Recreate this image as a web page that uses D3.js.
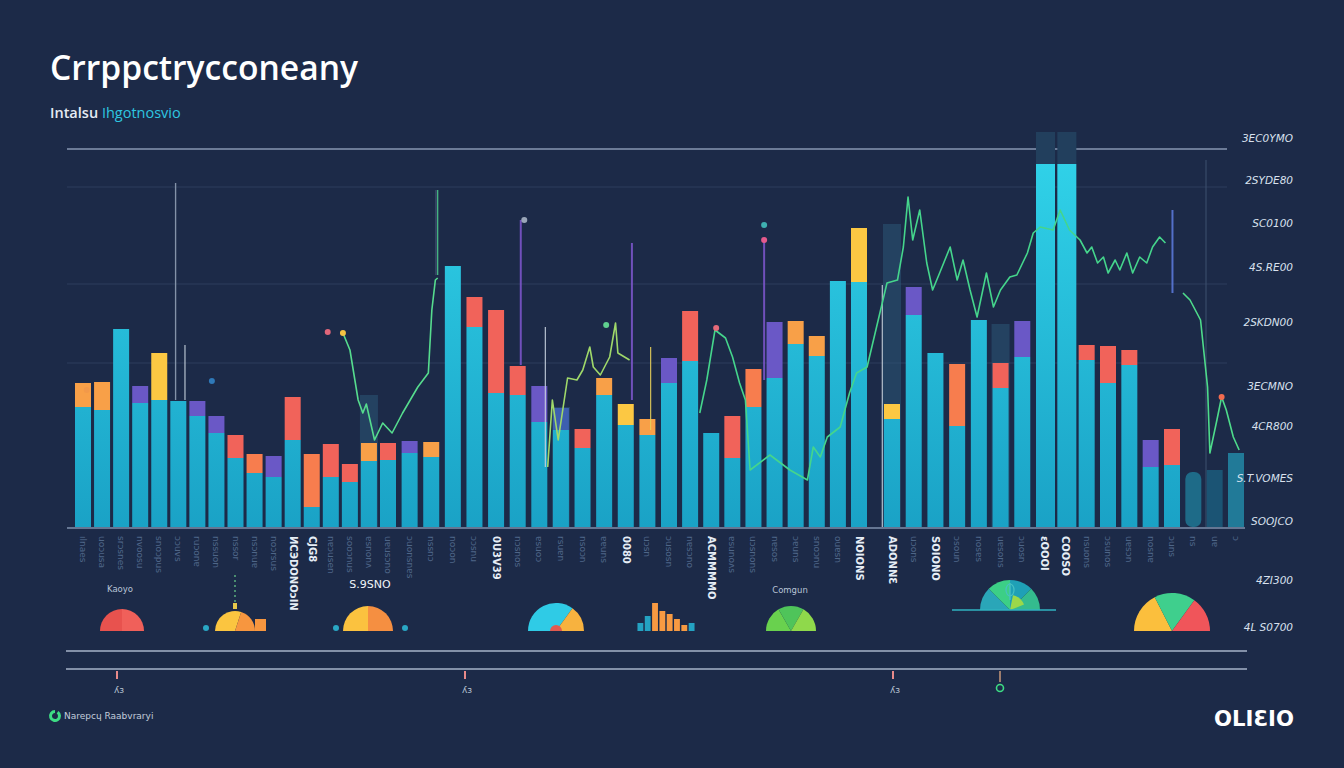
<!DOCTYPE html>
<html><head><meta charset="utf-8">
<script src="https://cdn.jsdelivr.net/npm/d3@7"></script>
<style>html,body{margin:0;padding:0;background:#1c2a48;}svg{display:block;}</style>
</head><body>
<script>
// ---------- DATA ----------
const titleText = "Crrppctrycconeany";
const subtitleA = "Intalsu";
const subtitleB = "Ihgotnosvio";
// base (cyan) segment value per bar
const baseValues = [120,117,198,124,127,126,111,94,69,54,50,87,20,50,45,66,67,74,70,261,
  200,134,132,105,97,79,132,102,92,144,166,94,69,120,149,183,171,246,245,108,
  212,174,101,207,139,170,363,363,167,144,162,60,62,55,57,74];
// cap segment value per bar (0 = none)
const capValues = [24,28,0,17,47,0,15,17,23,19,21,43,53,33,18,18,17,12,15,0,
  30,83,29,36,22,19,17,21,16,25,50,0,42,38,56,23,20,0,54,15,
  28,0,62,0,25,36,32,32,15,37,15,27,36,0,0,0];
// cap category: o=orange r=red p=purple y=yellow x=orange-red b=blue d=dark
const capKinds = ["o","o","","p","y","","p","p","r","x","p","r","x","r","r","o","r","p","o","",
  "r","r","r","p","b","r","o","y","o","p","r","","r","x","p","o","o","","y","y",
  "p","","x","","r","p","d","d","r","r","r","p","r","","",""];
// bar body kind: c=cyan, t=dark teal
const bodyKinds = Array.from({length:56},(_,i)=> i>=53 ? "t" : "c");
const ghostBars = [[15,132],[39,303],[44,203],[24,120]];
const xLabels = ["ılnaes","uoɔusa","srɔsnes","nvoosu","snoɔpus","ɔɔuvs","ruɔonɐ","nssuon","nssor","nsɔnuɐ",
  "noɔrsus","ИСЭDONOɔIN","CJG8","nɐɔusen","sooɔnus","ɐsnonʌ","uɐusɔno","ɔuonsnɐs","nssnɔ","noɔon",
  "ɔɔsnu","0U3V39","nɔsnos","ɐsuoɔ","rsuɐn","nsoɔn","ɐɐuns","0080","uɔsn","ɔusosn",
  "nɐsɔno","ACMMMMO","ɐsunoʌs","uɔsnons","nɐsos","ɔɐuns","snoɔnu","ouɐsn","NOIONS","ADONNƐ",
  "uɔons","SOIONO","ɔsoun","nosɐs","uɐsons","ɔuosn","ɛOOOI","COOSO","nsuons","ɔsunos",
  "uɐsɔn","nosnɐ","ɔuns","ns","uɐ","ɔ"];
const brightLabels = [11,12,21,27,31,38,39,41,46,47];
const yTickValues = [389,347,304,260,205,141,101,49,6,-53,-100];
const yTickLabels = ["3EC0YMO","2SYDE80","SC0100","4S.RE00","2SKDN00","3ECMNO","4CR800","S.T.VOMES","SOOJCO","4ZI300","4L S0700"];
// line series: [time (0-100), value]
const lineA = [[22.9,194],[23.5,177],[24.2,127],[24.6,114],[24.9,123],[25.6,87],[26.3,104],[27.1,94],[28.0,114],[28.8,130],[29.3,140],[30.2,154],[30.5,217],[30.8,247],[31.0,249]];
const lineB = [[40.4,60],[40.8,127],[41.3,87],[42.1,149],[42.9,147],[43.4,157],[44.0,180],[44.3,160],[44.9,152],[45.7,170],[46.2,204],[46.4,174],[47.4,167]];
const lineC = [[53.4,114],[54.0,147],[54.7,197],[55.6,189],[56.2,170],[56.8,144],[57.3,127],[57.7,57],[59.4,72],[61.1,57],[62.6,47],[63.1,80],[63.7,70],[64.3,90],[65.4,100],[66.2,134],[66.8,154],[67.7,160],[69.4,244],[70.3,247],[70.8,280],[71.2,330],[71.6,287],[72.2,317],[72.8,264],[73.3,237],[73.9,254],[74.8,280],[75.4,247],[75.9,267],[76.5,237],[77.1,210],[77.9,254],[78.5,220],[79.1,237],[79.9,250],[80.5,252],[81.4,274],[81.9,294],[82.5,300],[83.6,297],[84.2,317],[85.0,297],[85.9,287],[86.5,274],[86.9,280],[87.4,264],[87.9,270],[88.3,254],[88.9,267],[89.3,257],[89.9,274],[90.4,254],[91.0,270],[91.6,264],[92.1,280],[92.7,290],[93.2,284]];
const lineD = [[94.7,234],[95.3,227],[96.2,207],[96.8,140],[97.0,74],[97.6,107],[98.0,130],[98.4,117],[99.0,90],[99.5,77]];
// spikes: [time, from value, to value, kind]
const spikes = [[8.6,127,344,"g"],[9.4,127,182,"w"],[38.1,162,307,"p"],[40.2,60,200,"w"],[47.6,127,284,"p"],[49.2,97,180,"y"],[58.9,147,287,"p"],[69.0,0,242,"w"],[93.8,234,317,"b"],[31.0,252,337,"g2"]];
const dots = [[21.6,195,"#e0667a"],[22.9,194,"#f6c342"],[38.4,307,"#9aa6b8"],[45.4,202,"#5fd08f"],[54.8,199,"#e66a7a"],[11.7,146,"#2f79b8"],[58.9,287,"#e45a8c"],[58.9,302,"#3fb0b0"],[98.0,130,"#f36b4f"],[1.0,137,"#f2994a"]];
const gauges = [
  {vals:[1,1], cols:["#e8524e","#f0605a"]},
  {vals:[3,2], cols:["#fbc540","#f7963f"]},
  {vals:[1,1], cols:["#fbc23f","#f58f41"]},
  {vals:[7,3], cols:["#2fcbe6","#f7b23f"]},
  {vals:[1,1,1], cols:["#69d14e","#4fc45a","#8fd94b"]},
  {vals:[1,1,1,1], cols:["#2aa6b8","#3ccf86","#1fa0b6","#34bb8e"]},
  {vals:[35,35,30], cols:["#fbbf3d","#3fcf8d","#f0555a"]}
];
const miniBars = [8,15,28,20,17,12,6,8];
const miniKinds = ["t","t","o","o","o","o","o","t"];
const gaugeLabels = ["Kaoyo","S.9SNO","Comgun"];
const legendText = "Narepcɥ  Raabvraryi";
const brandText = "OLIƐIO";

// ---------- DRAW ----------
const W=1344,H=768;
const svg=d3.select("body").append("svg").attr("width",W).attr("height",H);
svg.append("rect").attr("width",W).attr("height",H).attr("fill","#1c2a48");
const defs=svg.append("defs");
const g1=defs.append("linearGradient").attr("id","cy").attr("gradientUnits","userSpaceOnUse").attr("x1",0).attr("y1",140).attr("x2",0).attr("y2",527);
g1.append("stop").attr("offset",0).attr("stop-color","#31d4ea");
g1.append("stop").attr("offset",1).attr("stop-color","#1aa2c6");

const x=d3.scaleLinear().domain([0,16,29,38,39,46,55]).range([75,380,661,851,884,1036,1228]);
const y=d3.scaleLinear().domain([0,395]).range([527,132]);
const t=d3.scaleLinear().domain([0,100]).range([75,1245]);
const bw=16;
const capColor={o:"#f8a048",r:"#f1635a",p:"#6a58c6",y:"#fcc843",x:"#f77d4e",b:"#3d5fb0",d:"#223f5d"};
const bodyColor={c:"url(#cy)",t:"#1f6e8c"};

// title
svg.append("text").attr("x",50).attr("y",80).text(titleText)
  .attr("font-family","'Open Sans',sans-serif").attr("font-weight",600).attr("font-size",35)
  .attr("fill","#ffffff").attr("textLength",308).attr("lengthAdjust","spacingAndGlyphs");
const sub=svg.append("text").attr("x",50).attr("y",118).attr("font-family","'Open Sans',sans-serif").attr("font-size",14.5);
sub.append("tspan").text(subtitleA).attr("fill","#e6ecf4").attr("font-weight",600);
sub.append("tspan").text(" "+subtitleB).attr("fill","#2ec6e0");

// grid lines
svg.selectAll(".grid").data([187,284,363]).enter().append("line")
  .attr("x1",67).attr("x2",1227).attr("y1",d=>d).attr("y2",d=>d)
  .attr("stroke","#3a4d6e").attr("stroke-width",1).attr("opacity",0.55);
svg.append("line").attr("x1",67).attr("x2",1227).attr("y1",149).attr("y2",149).attr("stroke","#8797b2").attr("stroke-width",1.3);
// faint verticals
svg.append("line").attr("x1",175.5).attr("x2",175.5).attr("y1",183).attr("y2",400).attr("stroke","#7f8ca3").attr("stroke-width",1.2);
svg.append("line").attr("x1",436).attr("x2",436).attr("y1",190).attr("y2",275).attr("stroke","#4b5d7c").attr("stroke-width",1);
svg.append("line").attr("x1",1206).attr("x2",1206).attr("y1",160).attr("y2",527).attr("stroke","#3d506f").attr("stroke-width",1);

// ghost bars
svg.selectAll(".ghost").data(ghostBars).enter().append("rect")
  .attr("x",d=>x(d[0])-1).attr("width",bw+2).attr("y",d=>y(d[1])).attr("height",d=>y(0)-y(d[1]))
  .attr("fill","#2b5677").attr("opacity",0.55);

// bars
const bars=svg.selectAll(".bar").data(baseValues.map((v,i)=>({i,v,c:capValues[i],k:capKinds[i],b:bodyKinds[i]}))).enter().append("g");
bars.append("rect").attr("x",d=>x(d.i)).attr("width",d=>d.i>=46&&d.i<=47?19:bw)
  .attr("y",d=>y(d.v)).attr("height",d=>y(0)-y(d.v))
  .attr("fill",d=>d.b==="t"?(d.i===54?"#1b5474":d.i===55?"#217a98":"#1e6b88"):"url(#cy)")
  .attr("rx",d=>d.i===53?7:0);
bars.filter(d=>d.c>0).append("rect").attr("x",d=>x(d.i)).attr("width",d=>d.i>=46&&d.i<=47?19:bw)
  .attr("y",d=>y(d.v+d.c)).attr("height",d=>y(d.v)-y(d.v+d.c))
  .attr("fill",d=>capColor[d.k]);

// spikes
const spikeCol={g:"#8593aa",w:"#c8d3df",p:"#7a55c8",y:"#e9d25a",b:"#5a78d8",g2:"#4fd38e"};
svg.selectAll(".spk").data(spikes).enter().append("line")
  .attr("x1",d=>t(d[0])).attr("x2",d=>t(d[0])).attr("y1",d=>y(d[1])).attr("y2",d=>y(d[2]))
  .attr("stroke",d=>spikeCol[d[3]]).attr("stroke-width",d=>d[3]==="p"||d[3]==="b"?2:1.2).attr("opacity",0.9);

// lines
const line=d3.line().x(d=>t(d[0])).y(d=>y(d[1]));
[[lineA,"#56dc8e"],[lineB,"#9fd86a"],[lineC,"#45d58c"],[lineD,"#4edb8b"]].forEach(([dat,c])=>{
  svg.append("path").datum(dat).attr("d",line).attr("fill","none").attr("stroke",c).attr("stroke-width",1.6).attr("stroke-linejoin","round");
});
svg.selectAll(".dot").data(dots).enter().append("circle")
  .attr("cx",d=>t(d[0])).attr("cy",d=>y(d[1])).attr("r",3).attr("fill",d=>d[2]);

// baseline
svg.append("line").attr("x1",67).attr("x2",1245).attr("y1",528).attr("y2",528).attr("stroke","#7e90ad").attr("stroke-width",1.4);

// x labels (rotated)
svg.selectAll(".xl").data(xLabels).enter().append("text")
  .attr("transform",(d,i)=>`translate(${x(i)+bw/2-3},536) rotate(90)`)
  .text(d=>d).attr("font-family","'DejaVu Sans',sans-serif")
  .attr("font-size",(d,i)=>brightLabels.includes(i)?10:9)
  .attr("font-weight",(d,i)=>brightLabels.includes(i)?"bold":"normal")
  .attr("fill",(d,i)=>brightLabels.includes(i)?"#e6edf6":"#4f6688");

// right axis labels
const yAxis=d3.axisRight(y).tickValues(yTickValues).tickFormat((d,i)=>yTickLabels[i]).tickSize(0);
const ya=svg.append("g").attr("transform","translate(1293,0)").call(yAxis);
ya.select(".domain").remove();
ya.selectAll("text").attr("text-anchor","end").attr("x",0).attr("fill","#d9e1ee")
  .attr("font-family","'DejaVu Sans',sans-serif").attr("font-style","italic").attr("font-size",10.5);

// lower rules
[651,669].forEach(v=>svg.append("line").attr("x1",66).attr("x2",1247).attr("y1",v).attr("y2",v).attr("stroke","#a6b3c9").attr("stroke-width",1.6));

// gauges
const pie=d3.pie().sort(null).startAngle(-Math.PI/2).endAngle(Math.PI/2);
const gPos=[[122,631,22],[235,631,20],[368,631,25],[556,631,28],[791,631,25],[1010,610,30],[1172,631,38]];
gauges.forEach((gd,gi)=>{
  const [cx,cy,r]=gPos[gi];
  const arc=d3.arc().innerRadius(0).outerRadius(r);
  const gg=svg.append("g").attr("transform",`translate(${cx},${cy})`);
  gg.selectAll("path").data(pie(gd.vals)).enter().append("path").attr("d",arc).attr("fill",(d,i)=>gd.cols[i]);
  if(gi===3){ gg.append("path").attr("d",d3.arc().innerRadius(0).outerRadius(6)({startAngle:-Math.PI/2,endAngle:Math.PI/2})).attr("fill","#e25a4f"); }
  if(gi===5){ gg.append("path").attr("d",d3.arc().innerRadius(0).outerRadius(15)({startAngle:0.2,endAngle:1.2})).attr("fill","#9bd84a"); }
});
// gauge extras
svg.append("rect").attr("x",255).attr("y",619).attr("width",11).attr("height",12).attr("fill","#f7963f");
[[206,628,"#2aa7c4"],[336,628,"#2aa7c4"],[405,628,"#2aa7c4"]].forEach(d=>svg.append("circle").attr("cx",d[0]).attr("cy",d[1]).attr("r",3).attr("fill",d[2]));
svg.append("line").attr("x1",235).attr("x2",235).attr("y1",575).attr("y2",610).attr("stroke","#6ad08a").attr("stroke-width",1.2).attr("stroke-dasharray","2,3");
svg.append("rect").attr("x",233).attr("y",603).attr("width",4).attr("height",6).attr("fill","#e6c84a");
svg.append("line").attr("x1",952).attr("x2",1056).attr("y1",610).attr("y2",610).attr("stroke","#2fb3c0").attr("stroke-width",1.6);
svg.append("line").attr("x1",1010).attr("x2",1010).attr("y1",583).attr("y2",600).attr("stroke","#47c1c3").attr("stroke-width",1.4);
svg.append("ellipse").attr("cx",1010).attr("cy",590).attr("rx",4).attr("ry",6).attr("fill","none").attr("stroke","#47c1c3").attr("stroke-width",1.2);
// mini bars
const mx=d3.scaleBand().domain(d3.range(miniBars.length)).range([636,696]).padding(0.2);
const my=d3.scaleLinear().domain([0,28]).range([631,603]);
svg.selectAll(".mb").data(miniBars).enter().append("rect")
  .attr("x",(d,i)=>mx(i)).attr("width",mx.bandwidth()).attr("y",d=>my(d)).attr("height",d=>631-my(d))
  .attr("fill",(d,i)=>miniKinds[i]==="t"?"#24a2c2":"#f79a42");
// gauge labels
const glPos=[[120,592,8.5],[370,588,11],[790,593,8.5]];
gaugeLabels.forEach((s,i)=>svg.append("text").attr("x",glPos[i][0]).attr("y",glPos[i][1]).attr("text-anchor","middle")
  .text(s).attr("font-family","'DejaVu Sans',sans-serif").attr("font-size",glPos[i][2]).attr("fill",i===1?"#f0f4f8":"#b8c4d6"));

// lower markers
[[117,"#e88a8a"],[465,"#e88a8a"],[893,"#e88a8a"]].forEach(d=>{
  svg.append("line").attr("x1",d[0]).attr("x2",d[0]).attr("y1",671).attr("y2",679).attr("stroke",d[1]).attr("stroke-width",2);
  svg.append("text").attr("x",d[0]+2).attr("y",693).attr("text-anchor","middle").text("ʎɜ").attr("font-family","'DejaVu Sans',sans-serif").attr("font-size",9).attr("fill","#b9c4d4");
});
svg.append("circle").attr("cx",1000).attr("cy",688).attr("r",3.5).attr("fill","none").attr("stroke","#3ddc84").attr("stroke-width",1.6);
svg.append("line").attr("x1",1000).attr("x2",1000).attr("y1",671).attr("y2",682).attr("stroke","#c99a7a").attr("stroke-width",1.5);

// legend
svg.append("path").attr("d",d3.arc().innerRadius(3).outerRadius(6)({startAngle:0.6,endAngle:Math.PI*2}))
  .attr("transform","translate(55,716)").attr("fill","#3ddc84");
svg.append("text").attr("x",64).attr("y",719).text(legendText).attr("font-family","'DejaVu Sans',sans-serif").attr("font-size",9).attr("fill","#c2ccdb");
// brand
svg.append("text").attr("x",1294).attr("y",726).attr("text-anchor","end").text(brandText)
  .attr("font-family","'DejaVu Sans',sans-serif").attr("font-weight","bold").attr("font-size",22).attr("fill","#ffffff")
  .attr("textLength",80).attr("lengthAdjust","spacingAndGlyphs");
</script>
</body></html>
